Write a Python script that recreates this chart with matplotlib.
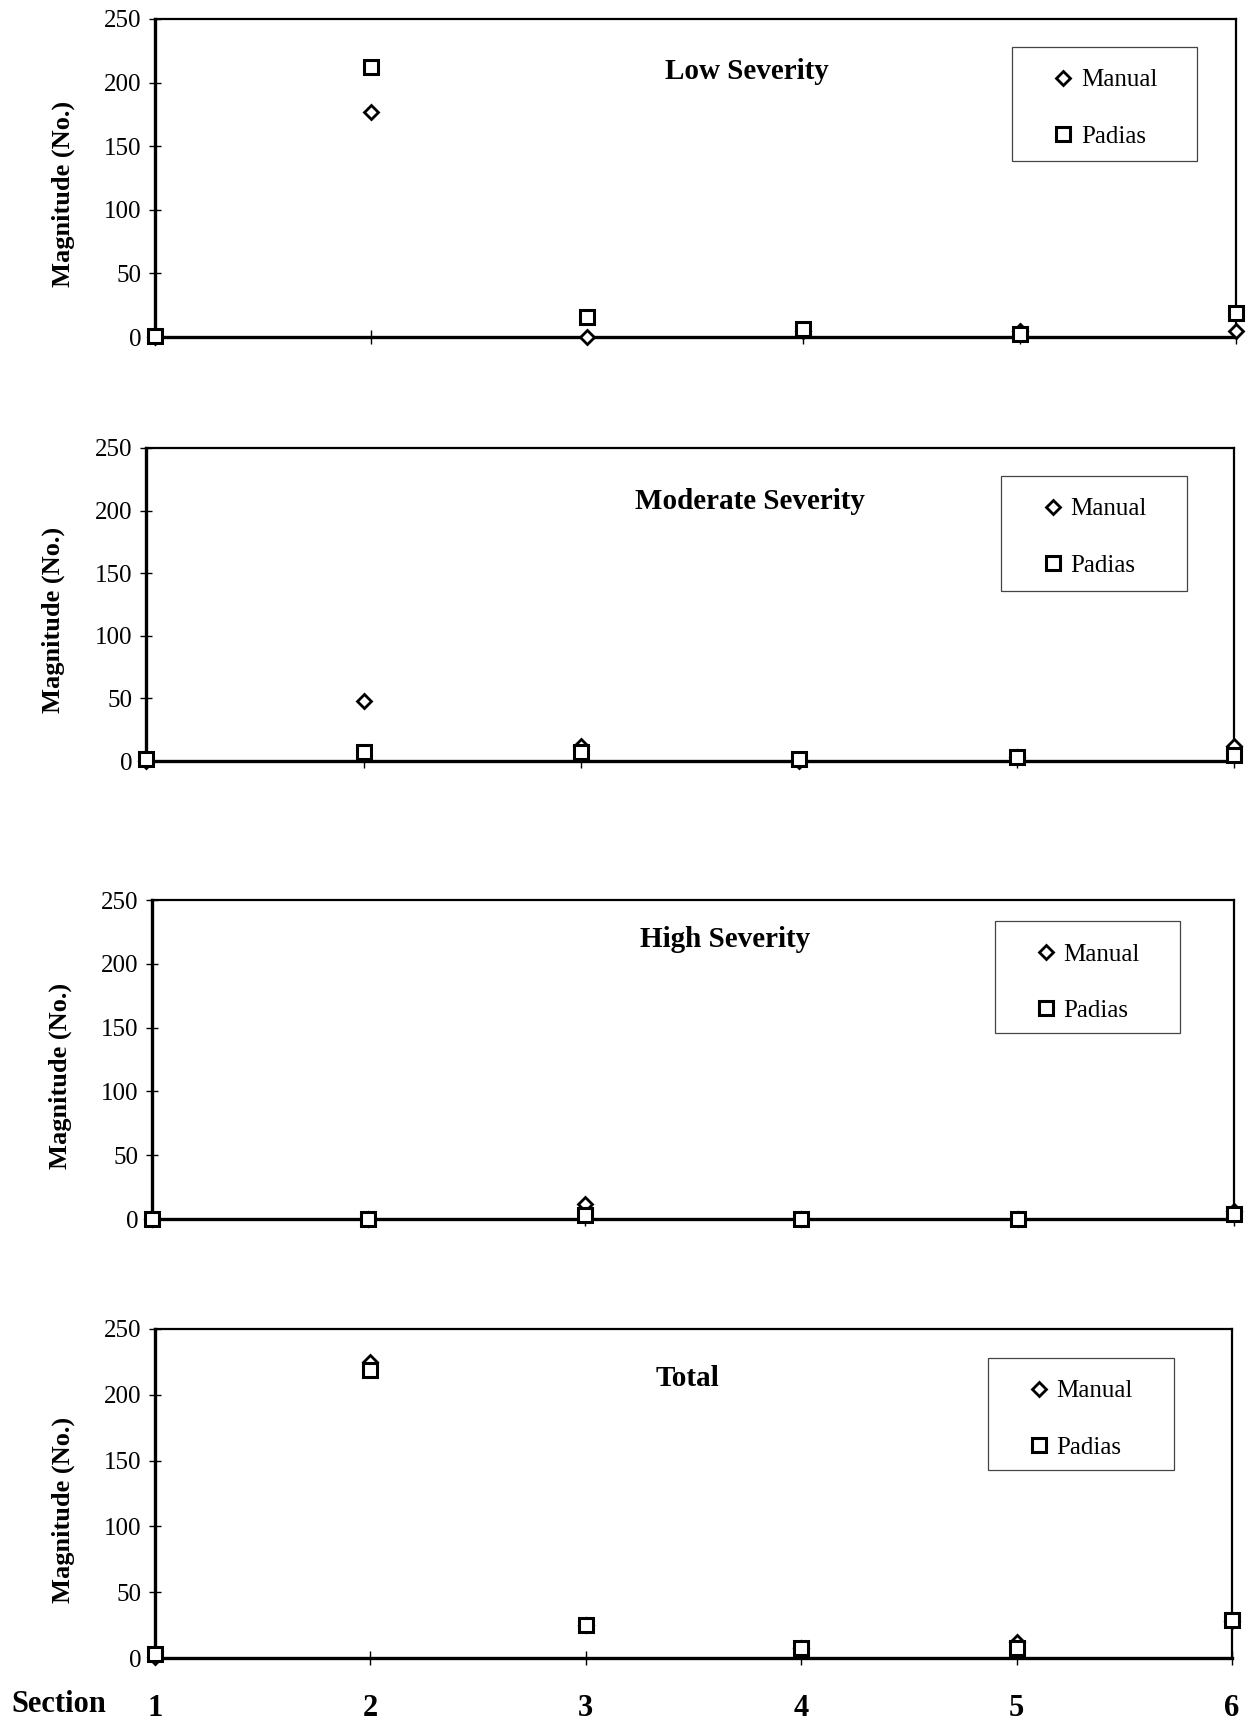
"""Manual vs Padias distress counts by section."""

import matplotlib

matplotlib.use("Agg")
import matplotlib.pyplot as plt
from matplotlib.patches import Rectangle

plt.rcParams["font.family"] = ["Liberation Serif", "DejaVu Serif"]

sections = [1, 2, 3, 4, 5, 6]
section_labels = ["1", "2", "3", "4", "5", "6"]
titles = ["Low Severity", "Moderate Severity", "High Severity", "Total"]

low_manual = [0, 177, 0, 5, 5, 5]
low_padias = [1, 212, 16, 6, 2, 19]
mod_manual = [0, 48, 12, 0, 3, 12]
mod_padias = [2, 7, 7, 2, 3, 5]
high_manual = [0, 0, 12, 0, 0, 6]
high_padias = [0, 0, 3, 0, 0, 4]
total_manual = [1, 225, 25, 8, 12, 28]
total_padias = [3, 219, 25, 8, 8, 29]

manual_series = [low_manual, mod_manual, high_manual, total_manual]
padias_series = [low_padias, mod_padias, high_padias, total_padias]

FIG_W, FIG_H = 1248, 1723

# per-panel layout (the scanned panels are not perfectly aligned)
axes_rects = [
    [0.1242, 0.8044, 0.866, 0.1846],
    [0.1170, 0.5583, 0.872, 0.1817],
    [0.1218, 0.2925, 0.867, 0.1851],
    [0.1242, 0.0377, 0.863, 0.1910],
]
title_pos = [(0.548, 0.835), (0.555, 0.83), (0.53, 0.875), (0.494, 0.85)]
# legend boxes in axes coords: x0, x1, y_bottom, y_top
legend_boxes = [
    (0.793, 0.964, 0.553, 0.912),
    (0.786, 0.957, 0.543, 0.911),
    (0.779, 0.950, 0.583, 0.934),
    (0.773, 0.946, 0.571, 0.912),
]

fig = plt.figure(figsize=(FIG_W / 100, FIG_H / 100), dpi=100)

for i in range(4):
    ax = fig.add_axes(axes_rects[i])
    ax.plot(sections, manual_series[i], linestyle="none", marker="D", markersize=7.5,
            markerfacecolor="white", markeredgecolor="black", markeredgewidth=2,
            label="Manual", clip_on=False, zorder=4)
    ax.plot(sections, padias_series[i], linestyle="none", marker="s", markersize=10,
            markerfacecolor="white", markeredgecolor="black", markeredgewidth=2.2,
            label="Padias", clip_on=False, zorder=5)

    ax.set_xlim(1, 6)
    ax.set_ylim(0, 250)
    ax.set_yticks([0, 50, 100, 150, 200, 250])
    ax.set_xticks(sections)
    ax.tick_params(axis="y", direction="inout", length=8, width=1, labelsize=18, pad=6)
    ax.tick_params(axis="x", direction="inout", length=10, width=1)
    if i == 3:
        ax.set_xticklabels(section_labels, fontsize=22, fontweight="bold")
        ax.tick_params(axis="x", pad=21)
    else:
        ax.set_xticklabels([])

    for side in ["left", "bottom"]:
        ax.spines[side].set_linewidth(2.4)
    for side in ["top", "right"]:
        ax.spines[side].set_linewidth(1.6)

    ax.set_ylabel("Magnitude (No.)", fontsize=19, fontweight="bold")
    ax.yaxis.set_label_coords(-0.074, 0.45)

    ax.text(title_pos[i][0], title_pos[i][1], titles[i], transform=ax.transAxes,
            ha="center", va="center", fontsize=21, fontweight="bold")

    # legend frame drawn separately so its padding can match the scan
    x0, x1, yb, yt = legend_boxes[i]
    ax.add_patch(Rectangle((x0, yb), x1 - x0, yt - yb, transform=ax.transAxes,
                           facecolor="white", edgecolor="#444444", linewidth=0.9,
                           zorder=6))
    ax_w = axes_rects[i][2] * FIG_W
    ax_h = axes_rects[i][3] * FIG_H
    leg = ax.legend(loc="upper left",
                    bbox_to_anchor=(x0 + 40 / ax_w, yt - 22 / ax_h),
                    fontsize=18, frameon=False, borderpad=0, borderaxespad=0,
                    labelspacing=1.35, handlelength=0.9, handletextpad=0.25)
    leg.set_zorder(7)

fig.text(0.009, 0.0105, "Section", fontsize=22, fontweight="bold", ha="left", va="center")

fig.savefig("out.png", dpi=100)
plt.close(fig)
